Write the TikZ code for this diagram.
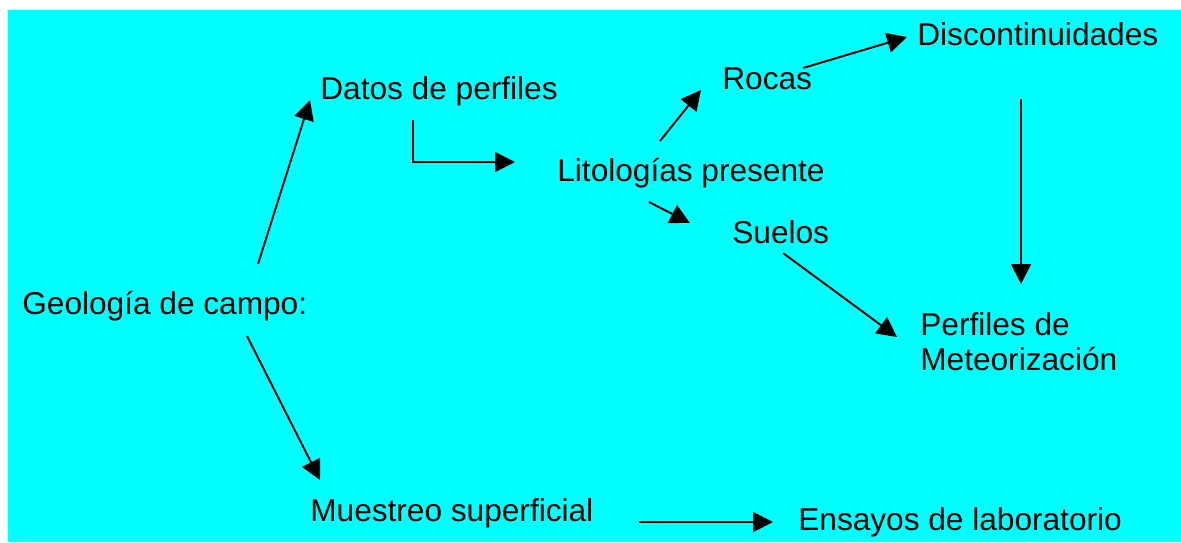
\documentclass[tikz,border=0pt]{standalone}
\usepackage{fontspec}
\setmainfont{Liberation Sans}
\usetikzlibrary{arrows.meta}
\definecolor{mapcyan}{RGB}{0,255,255}

\begin{document}
\begin{tikzpicture}[x=0.02cm,y=-0.02cm]
\tikzset{map text/.style={anchor=base west,inner sep=0pt,align=left,
            font=\fontsize{18}{19.85}\selectfont},
         map link/.style={line width=1.1pt,
            -{Triangle[length=11.3pt,width=11.3pt]}}}

\useasboundingbox (0,0) rectangle (1181,542);
\fill[mapcyan] (8,10) rectangle (1181,542);

\node[map text] (geo) at (22,314) {Geología de campo:};
\node[map text] (datos) at (320,99) {Datos de perfiles};
\node[map text] (lito) at (557,181) {Litologías presente};
\node[map text] (rocas) at (722,89) {Rocas};
\node[map text] (disc) at (917,45) {Discontinuidades};
\node[map text] (suelos) at (732,243) {Suelos};
\node[map text] (perf) at (920,370) {Perfiles de\\Meteorización};
\node[map text] (muestreo) at (310,521) {Muestreo superficial};
\node[map text] (ensayos) at (798,530) {Ensayos de laboratorio};

\coordinate (geo up) at (258,264);
\coordinate (datos in) at (310,100);
\coordinate (geo down) at (247,336);
\coordinate (muestreo in) at (320,480);
\coordinate (datos out) at (413,120);
\coordinate (lito in) at (515,162);
\coordinate (lito up) at (660,141);
\coordinate (rocas in) at (701,90);
\coordinate (lito down) at (649,202);
\coordinate (suelos in) at (690,223);
\coordinate (rocas out) at (803,68);
\coordinate (disc in) at (907,37);
\coordinate (disc out) at (1021,99);
\coordinate (perf top) at (1021,284);
\coordinate (suelos out) at (783,253);
\coordinate (perf in) at (897,337);
\coordinate (muestreo out) at (639,522);
\coordinate (ensayos in) at (773,522);

\draw[map link] (geo up) -- (datos in);
\draw[map link] (geo down) -- (muestreo in);
\draw[map link] (datos out) |- (lito in);
\draw[map link] (lito up) -- (rocas in);
\draw[map link] (lito down) -- (suelos in);
\draw[map link] (rocas out) -- (disc in);
\draw[map link] (disc out) -- (perf top);
\draw[map link] (suelos out) -- (perf in);
\draw[map link] (muestreo out) -- (ensayos in);

\end{tikzpicture}
\end{document}
